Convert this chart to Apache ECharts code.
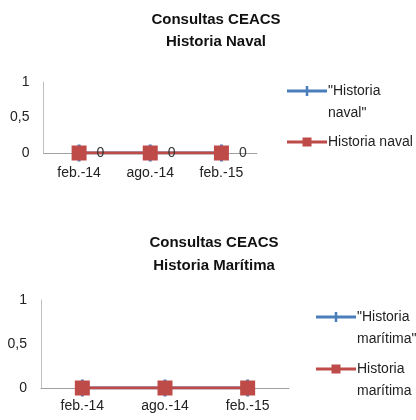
<!DOCTYPE html>
<html><head><meta charset="utf-8">
<script src="https://cdn.jsdelivr.net/npm/echarts@6/dist/echarts.min.js"></script>
<style>html,body{margin:0;padding:0;background:#fff}#c{width:416px;height:420px}</style>
</head><body><div id="c"></div>
<script>
var categories = ['feb.-14', 'ago.-14', 'feb.-15'];
var navalQuoted = [0, 0, 0];
var naval = [0, 0, 0];
var maritimaQuoted = [0, 0, 0];
var maritima = [0, 0, 0];
var yTicks = [0, 0.5, 1];

var FONT = 'Liberation Sans';
var BLUE = '#4a7ebb', RED = '#be4b48';
var chart = echarts.init(document.getElementById('c'));

function icon(kind, h) {
  var line = 'M0,4.5h40v3h-40Z';
  var mark = kind === 'blue' ? 'M18.75,1h2.5v10h-2.5Z' : 'M15.5,1.5h9v9h-9Z';
  var bounds = 'M0,0h0.01v0.01h-0.01Z M0,' + (h - 0.01) + 'h0.01v0.01h-0.01Z';
  return 'path://' + line + ' ' + mark + ' ' + bounds;
}
function yAxis(gi) {
  return {gridIndex: gi, type: 'value', min: yTicks[0], max: yTicks[yTicks.length-1], interval: yTicks[1]-yTicks[0],
    axisLine: {show: true, lineStyle: {color: '#bfbfbf'}}, axisTick: {show: false}, splitLine: {show: false},
    axisLabel: {color: '#222', fontFamily: FONT, fontSize: 14, margin: 14, formatter: function(v){return String(v).replace('.', ',');}}};
}
function xAxis(gi, margin) {
  return {gridIndex: gi, type: 'category', data: categories, boundaryGap: true,
    axisLine: {lineStyle: {color: '#a0a0a0'}}, axisTick: {show: false},
    axisLabel: {color: '#222', fontFamily: FONT, fontSize: 14, margin: margin}};
}
function lineSeries(name, data, gi, color, symbol, size, label) {
  return {name: name, type: 'line', xAxisIndex: gi, yAxisIndex: gi, data: data,
    symbol: symbol, symbolSize: size, showAllSymbol: true,
    lineStyle: {color: color, width: 3}, itemStyle: {color: color},
    label: label ? {show: true, position: 'right', distance: 10, color: '#333', fontFamily: FONT, fontSize: 14} : {show: false}};
}
function legendItem(name, text, kind, left, top) {
  var twoLine = text.indexOf('\n') >= 0;
  var h = twoLine ? 34 : 12;
  return {data: [{name: name, icon: icon(kind, h)}], orient: 'vertical', left: left, top: top, padding: 0,
    itemWidth: 40, itemHeight: h, itemGap: 0, symbolKeepAspect: true,
    formatter: function(){return text;},
    textStyle: {fontFamily: FONT, fontSize: 14, color: '#222', lineHeight: 22, padding: [0,0,0,-4]}};
}
var titleStyle = {fontFamily: FONT, fontSize: 15, fontWeight: 'bold', color: '#111', lineHeight: 22};
chart.setOption({
  animation: false,
  title: [
    {text: 'Consultas CEACS\nHistoria Naval', left: 216, top: 9, padding: 0, textAlign: 'center', textStyle: titleStyle},
    {text: 'Consultas CEACS\nHistoria Marítima', left: 214, top: 231, padding: 0, textAlign: 'center',
     textStyle: Object.assign({}, titleStyle, {lineHeight: 23})}
  ],
  grid: [
    {left: 43.5, right: 159, top: 82, bottom: 267},
    {left: 41, right: 127, top: 300, bottom: 32}
  ],
  xAxis: [xAxis(0, 13), xAxis(1, 11)],
  yAxis: [yAxis(0), yAxis(1)],
  legend: [
    legendItem('"Historia naval"', '"Historia\nnaval"', 'blue', 287, 80),
    legendItem('Historia naval', 'Historia naval', 'red', 287, 131),
    legendItem('"Historia marítima"', '"Historia\nmarítima"', 'blue', 316, 306),
    legendItem('Historia marítima', 'Historia\nmarítima', 'red', 316, 358)
  ],
  series: [
    lineSeries('"Historia naval"', navalQuoted, 0, BLUE, 'rect', [3, 17], false),
    lineSeries('Historia naval', naval, 0, RED, 'rect', 15, true),
    lineSeries('"Historia marítima"', maritimaQuoted, 1, BLUE, 'rect', [3, 17], false),
    lineSeries('Historia marítima', maritima, 1, RED, 'rect', 15, false)
  ]
});
</script></body></html>
